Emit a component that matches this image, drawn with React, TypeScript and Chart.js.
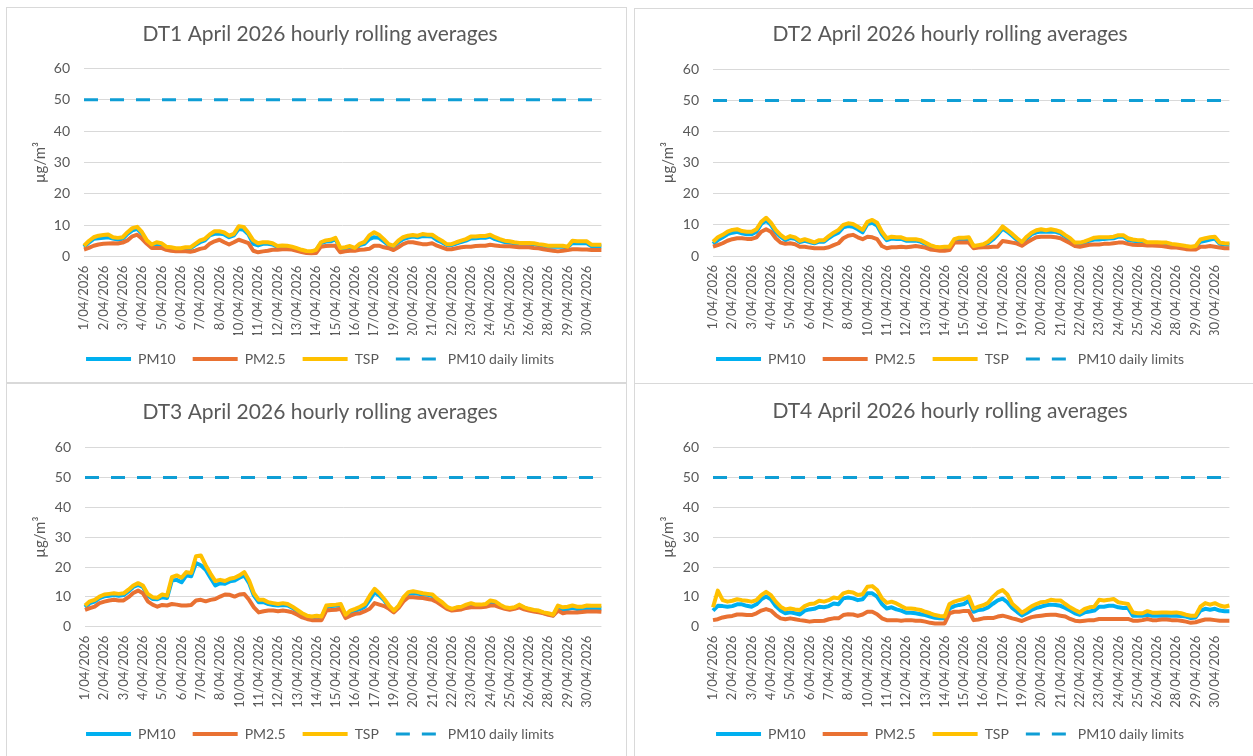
import React, { useEffect, useRef } from 'react';
import { Chart, registerables } from 'chart.js';

Chart.register(...registerables);

// ---------- DATA ----------
const tickDates = [
  '1/04/2026', '2/04/2026', '3/04/2026', '4/04/2026', '5/04/2026', '6/04/2026', '7/04/2026',
  '8/04/2026', '10/04/2026', '11/04/2026', '12/04/2026', '13/04/2026', '14/04/2026', '15/04/2026',
  '16/04/2026', '17/04/2026', '19/04/2026', '20/04/2026', '21/04/2026', '22/04/2026', '23/04/2026',
  '24/04/2026', '25/04/2026', '26/04/2026', '28/04/2026', '29/04/2026', '30/04/2026',
];
const pointsPerTick = 4;
const pointCount = 108;
const pm10DailyLimit = 50;

const seriesNames = ['PM10', 'PM2.5', 'TSP', 'PM10 daily limits'];
const chartTitles = [
  'DT1 April 2026 hourly rolling averages',
  'DT2 April 2026 hourly rolling averages',
  'DT3 April 2026 hourly rolling averages',
  'DT4 April 2026 hourly rolling averages',
];
const yTicks = [0, 10, 20, 30, 40, 50, 60];

const dt1Tsp = [
  3.5, 5.0, 6.2, 6.7, 6.9, 7.1, 6.2, 6.0, 6.2, 7.8, 9.1, 9.5, 7.8, 5.2, 3.9, 4.6, 4.3, 3.2, 3.0, 2.7,
  2.7, 3.0, 3.0, 4.1, 5.2, 5.7, 7.1, 8.1, 8.1, 7.7, 6.7, 7.3, 9.7, 9.5, 7.6, 5.2, 4.3, 4.6, 4.6, 4.3,
  3.4, 3.6, 3.5, 3.2, 2.7, 2.2, 1.8, 1.7, 2.2, 4.6, 5.2, 5.4, 6.0, 2.8, 3.0, 3.4, 2.8, 4.1, 4.7, 6.8,
  7.8, 7.0, 5.6, 4.0, 3.5, 5.1, 6.2, 6.7, 6.9, 6.7, 7.2, 7.0, 7.0, 6.0, 5.1, 4.0, 4.0, 4.6, 5.1, 5.6,
  6.4, 6.4, 6.6, 6.6, 7.0, 6.2, 5.6, 5.1, 4.9, 4.6, 4.4, 4.4, 4.4, 4.3, 4.0, 3.8, 3.5, 3.5, 3.5, 3.5,
  3.2, 5.1, 4.9, 4.9, 4.9, 3.8, 3.8, 3.8,
];
const dt1Pm10 = [
  3.1, 4.5, 5.7, 5.9, 6.0, 6.2, 5.8, 5.5, 5.7, 7.3, 8.4, 8.9, 7.3, 4.7, 3.4, 4.1, 3.9, 2.9, 2.7, 2.4,
  2.4, 2.7, 2.7, 3.7, 4.6, 5.2, 6.8, 7.3, 7.4, 7.1, 6.2, 6.8, 8.9, 8.6, 7.1, 4.1, 3.6, 4.1, 4.1, 3.9,
  3.1, 3.3, 3.2, 2.9, 2.5, 2.0, 1.6, 1.5, 2.0, 4.3, 4.8, 4.9, 5.6, 2.5, 2.7, 3.0, 2.5, 3.7, 4.1, 5.6,
  6.2, 6.0, 4.9, 3.7, 3.2, 4.6, 5.6, 6.1, 6.4, 6.2, 6.6, 6.5, 6.4, 5.3, 4.6, 3.7, 3.7, 4.2, 4.7, 5.1,
  5.8, 5.9, 6.0, 6.0, 6.4, 5.6, 5.1, 4.7, 4.5, 4.3, 4.1, 4.1, 4.1, 4.0, 3.7, 3.5, 3.2, 3.2, 3.2, 3.2,
  3.0, 4.4, 4.3, 4.3, 4.3, 3.3, 3.3, 3.3,
];
const dt1Pm25 = [
  2.3, 2.8, 3.5, 3.9, 4.1, 4.2, 4.3, 4.2, 4.5, 5.2, 6.5, 7.0, 5.7, 4.1, 2.8, 2.8, 2.8, 2.2, 1.9, 1.7,
  1.7, 1.7, 1.6, 1.9, 2.5, 2.8, 4.1, 4.9, 5.4, 4.6, 3.9, 4.6, 5.4, 4.9, 4.3, 1.9, 1.4, 1.7, 1.9, 2.2,
  2.2, 2.4, 2.4, 2.3, 1.9, 1.5, 1.2, 1.1, 1.2, 3.2, 3.4, 3.5, 3.5, 1.4, 1.7, 1.9, 1.9, 2.2, 2.3, 2.5,
  3.5, 3.5, 3.0, 2.7, 2.1, 3.0, 4.0, 4.6, 4.6, 4.3, 4.0, 4.0, 4.3, 3.5, 3.0, 2.4, 2.4, 2.7, 3.0, 3.2,
  3.2, 3.4, 3.5, 3.5, 3.8, 3.6, 3.4, 3.3, 3.3, 3.2, 3.0, 3.0, 3.0, 2.8, 2.7, 2.4, 2.1, 1.9, 1.7, 1.9,
  2.1, 2.4, 2.4, 2.3, 2.3, 2.1, 2.1, 2.1,
];

const dt2Tsp = [
  4.6, 6.0, 6.8, 7.8, 8.4, 8.6, 8.0, 7.8, 7.8, 8.6, 11.0, 12.3, 10.7, 8.4, 6.8, 5.7, 6.4, 6.0, 4.9, 5.4,
  4.9, 4.4, 5.1, 5.1, 6.4, 7.5, 8.4, 10.0, 10.5, 10.3, 9.4, 8.4, 11.0, 11.6, 10.7, 7.8, 5.7, 6.2, 6.0, 6.0,
  5.4, 5.4, 5.4, 5.1, 4.3, 3.5, 3.0, 2.8, 3.0, 3.0, 5.4, 5.9, 5.9, 6.0, 3.2, 3.5, 3.8, 4.6, 6.0, 7.5,
  9.5, 8.3, 7.1, 5.7, 4.5, 6.2, 7.5, 8.3, 8.6, 8.3, 8.6, 8.3, 7.8, 6.7, 5.7, 4.3, 4.3, 4.7, 5.3, 5.9,
  6.0, 6.0, 6.0, 6.2, 6.7, 6.7, 5.7, 5.3, 5.1, 5.1, 4.4, 4.4, 4.4, 4.3, 4.3, 3.9, 3.7, 3.5, 3.2, 3.0,
  3.2, 5.3, 5.7, 6.0, 6.2, 4.3, 4.1, 4.0,
];
const dt2Pm10 = [
  3.9, 5.1, 6.0, 7.0, 7.5, 7.8, 7.3, 7.0, 7.0, 7.8, 10.3, 11.4, 10.0, 7.6, 6.2, 5.1, 5.8, 5.5, 4.5, 4.9,
  4.5, 4.1, 4.6, 4.6, 5.8, 6.8, 7.5, 9.2, 9.6, 9.4, 8.6, 7.6, 10.3, 10.7, 9.8, 7.0, 5.1, 5.6, 5.5, 5.5,
  4.9, 4.9, 5.0, 4.6, 3.9, 3.2, 2.7, 2.5, 2.7, 2.8, 5.0, 5.4, 5.4, 5.5, 3.0, 3.2, 3.4, 4.1, 5.3, 6.9,
  8.8, 7.8, 6.5, 5.1, 4.1, 5.6, 7.0, 7.6, 7.9, 7.8, 7.9, 7.8, 7.3, 6.2, 5.1, 3.9, 4.1, 4.3, 4.9, 5.3,
  5.3, 5.5, 5.6, 5.7, 6.2, 6.2, 5.1, 4.9, 4.7, 4.7, 4.1, 4.1, 4.1, 4.0, 4.0, 3.5, 3.4, 3.2, 3.0, 2.8,
  3.0, 4.6, 4.9, 5.3, 5.6, 3.9, 3.7, 3.6,
];
const dt2Pm25 = [
  3.0, 3.5, 4.1, 4.9, 5.4, 5.7, 5.7, 5.5, 5.5, 6.0, 7.8, 8.6, 7.8, 5.7, 4.3, 3.9, 4.1, 3.8, 3.0, 3.0,
  2.7, 2.5, 2.5, 2.5, 2.8, 3.5, 4.1, 5.7, 6.5, 6.8, 6.0, 5.4, 6.2, 6.0, 5.4, 3.2, 2.5, 2.8, 2.8, 3.0,
  2.8, 3.0, 3.2, 3.0, 2.7, 2.1, 1.9, 1.7, 1.7, 1.9, 4.3, 4.3, 4.3, 4.3, 2.5, 2.7, 2.8, 2.8, 3.0, 3.0,
  4.8, 4.6, 4.3, 4.0, 3.3, 4.3, 5.2, 6.0, 6.2, 6.2, 6.2, 6.0, 5.7, 4.9, 4.1, 3.2, 3.0, 3.3, 3.6, 3.7,
  3.7, 3.9, 3.9, 4.1, 4.3, 4.3, 3.9, 3.6, 3.5, 3.5, 3.4, 3.4, 3.3, 3.2, 3.0, 2.7, 2.7, 2.5, 2.2, 2.1,
  2.1, 3.0, 3.0, 3.2, 3.0, 2.7, 2.5, 2.5,
];

const dt3Tsp = [
  7.1, 8.5, 9.0, 10.1, 10.8, 11.0, 11.2, 11.0, 11.2, 12.4, 13.8, 14.6, 13.8, 11.0, 9.9, 9.7, 10.8, 10.4, 16.6, 17.2,
  16.4, 18.3, 18.0, 23.6, 23.9, 20.6, 17.8, 15.3, 15.7, 15.3, 16.1, 16.4, 17.2, 18.3, 15.5, 11.2, 9.0, 9.0, 8.2, 7.9,
  7.6, 7.9, 7.6, 6.7, 5.6, 4.5, 3.7, 3.4, 3.7, 3.4, 7.1, 7.3, 7.4, 7.6, 4.0, 5.4, 6.0, 6.7, 7.6, 10.4,
  12.7, 11.2, 9.3, 7.1, 5.4, 7.1, 9.9, 11.6, 11.9, 11.6, 11.2, 11.0, 10.8, 9.3, 8.2, 6.7, 6.0, 6.5, 6.7, 7.4,
  7.9, 7.4, 7.4, 7.6, 8.8, 8.5, 7.4, 6.5, 6.3, 6.5, 7.4, 6.5, 6.0, 5.6, 5.4, 4.8, 4.5, 4.0, 7.1, 6.5,
  6.7, 7.1, 6.7, 6.7, 7.1, 7.0, 7.0, 7.0,
];
const dt3Pm10 = [
  6.5, 7.9, 8.4, 9.6, 10.2, 10.4, 10.6, 10.4, 10.6, 11.8, 13.3, 14.0, 13.3, 10.4, 9.3, 9.2, 9.9, 9.6, 15.5, 15.7,
  14.9, 17.2, 16.9, 21.3, 20.6, 19.1, 16.4, 13.8, 14.6, 14.4, 15.2, 15.5, 16.4, 17.2, 14.6, 10.4, 8.2, 8.2, 7.6, 7.3,
  7.1, 7.3, 7.1, 6.3, 5.1, 4.0, 3.4, 3.1, 3.4, 3.1, 6.5, 6.9, 7.0, 7.1, 3.7, 4.8, 5.4, 5.9, 6.7, 9.0,
  11.6, 10.4, 8.8, 6.7, 5.2, 6.7, 9.4, 11.0, 11.2, 11.0, 10.8, 10.7, 10.3, 9.0, 7.9, 6.5, 5.7, 6.2, 6.4, 7.0,
  7.4, 7.1, 7.1, 7.3, 8.2, 8.1, 7.1, 6.3, 6.1, 6.3, 7.1, 6.3, 5.8, 5.4, 5.2, 4.6, 4.2, 3.8, 6.5, 5.8,
  5.9, 6.3, 5.9, 5.9, 6.3, 6.2, 6.2, 6.2,
];
const dt3Pm25 = [
  5.6, 6.2, 6.7, 7.9, 8.4, 8.8, 9.0, 8.8, 8.8, 9.9, 11.3, 12.1, 11.2, 8.5, 7.4, 6.7, 7.3, 7.1, 7.6, 7.4,
  7.1, 7.1, 7.3, 8.8, 9.0, 8.5, 9.0, 9.3, 10.1, 10.8, 10.7, 10.1, 10.8, 11.0, 9.0, 6.5, 4.8, 5.2, 5.4, 5.4,
  5.2, 5.4, 5.2, 4.8, 4.0, 3.1, 2.6, 2.2, 2.2, 2.2, 5.4, 5.6, 5.7, 6.0, 2.9, 3.7, 4.3, 4.5, 5.2, 6.0,
  7.9, 7.4, 6.9, 6.0, 4.8, 6.3, 8.5, 9.9, 9.9, 9.7, 9.6, 9.3, 9.0, 8.2, 7.1, 6.0, 5.4, 5.6, 5.8, 6.3,
  6.5, 6.5, 6.5, 6.7, 7.1, 7.1, 6.5, 6.0, 5.7, 6.0, 6.5, 5.8, 5.4, 5.1, 4.8, 4.5, 4.0, 3.7, 5.4, 4.5,
  4.8, 4.8, 4.8, 4.9, 5.1, 5.1, 5.1, 5.0,
];

const dt4Tsp = [
  6.5, 12.1, 8.9, 8.4, 8.7, 9.2, 8.9, 8.7, 8.4, 8.9, 10.6, 11.7, 10.6, 8.4, 6.7, 5.8, 6.1, 5.8, 5.6, 6.9,
  7.6, 7.8, 8.7, 8.4, 8.9, 9.8, 9.5, 11.2, 11.7, 11.5, 10.6, 10.9, 13.4, 13.6, 12.3, 9.5, 8.0, 8.4, 7.8, 6.9,
  6.1, 6.1, 5.9, 5.6, 5.0, 4.5, 3.9, 3.6, 3.4, 7.6, 8.4, 8.9, 9.3, 10.1, 6.1, 6.7, 7.2, 8.0, 10.0, 11.5,
  12.3, 10.8, 7.7, 6.3, 4.7, 5.7, 6.8, 7.6, 8.2, 8.4, 9.0, 8.8, 8.8, 7.6, 6.5, 5.6, 4.8, 6.0, 6.5, 6.7,
  9.0, 8.8, 9.0, 9.3, 8.2, 7.9, 7.6, 4.8, 4.5, 4.5, 5.2, 4.7, 4.7, 4.8, 4.8, 4.7, 4.8, 4.5, 4.0, 3.7,
  3.7, 6.7, 7.9, 7.4, 7.9, 7.1, 6.7, 7.1,
];
const dt4Pm10 = [
  5.4, 7.0, 6.9, 6.7, 6.9, 7.5, 7.5, 7.0, 6.7, 7.5, 9.2, 10.1, 9.2, 6.9, 5.4, 4.5, 4.8, 4.5, 4.1, 5.4,
  5.8, 6.0, 6.7, 6.5, 6.9, 7.8, 7.5, 9.5, 9.8, 9.5, 8.9, 9.2, 11.2, 11.2, 10.1, 7.6, 6.1, 6.5, 5.8, 5.4,
  4.7, 4.7, 4.5, 4.2, 3.9, 3.4, 3.0, 2.8, 2.8, 6.1, 6.9, 7.3, 7.6, 8.7, 5.0, 5.6, 5.8, 6.5, 7.7, 8.8,
  9.4, 8.2, 6.3, 5.0, 3.8, 4.6, 5.6, 6.3, 6.7, 7.2, 7.4, 7.3, 7.0, 6.3, 5.4, 4.5, 4.0, 4.8, 5.1, 5.4,
  6.7, 6.7, 7.0, 7.0, 6.5, 6.3, 6.3, 3.7, 3.7, 3.7, 4.0, 3.7, 3.7, 3.7, 3.7, 3.7, 3.7, 3.6, 3.4, 2.9,
  3.1, 5.4, 6.0, 5.7, 6.0, 5.4, 5.2, 5.2,
];
const dt4Pm25 = [
  2.2, 2.5, 3.1, 3.4, 3.6, 4.1, 4.1, 3.9, 3.9, 4.5, 5.4, 5.9, 5.4, 3.9, 2.8, 2.5, 2.8, 2.5, 2.2, 2.0,
  1.7, 1.9, 1.9, 2.0, 2.5, 2.8, 2.8, 3.9, 4.2, 4.1, 3.6, 4.1, 5.0, 5.0, 4.2, 2.8, 2.2, 2.2, 2.2, 2.0,
  2.2, 2.2, 2.0, 2.0, 1.7, 1.3, 1.1, 1.1, 1.1, 4.5, 5.0, 5.0, 5.3, 5.3, 2.2, 2.4, 2.8, 2.9, 2.9, 3.4,
  3.7, 3.3, 2.8, 2.4, 1.9, 2.6, 3.2, 3.5, 3.7, 3.9, 4.0, 4.0, 3.7, 3.4, 2.6, 2.0, 1.8, 2.0, 2.2, 2.2,
  2.6, 2.6, 2.6, 2.6, 2.6, 2.6, 2.6, 2.0, 2.0, 2.2, 2.6, 2.2, 2.2, 2.4, 2.4, 2.2, 2.2, 2.0, 1.7, 1.3,
  1.5, 2.0, 2.4, 2.4, 2.2, 2.0, 2.0, 2.0,
];

// ---------- STYLE / LAYOUT ----------
const FONT = 'Lato, "Open Sans", Arial, sans-serif';
const TEXT = '#595959';
const GRID = '#d9d9d9';
const COLORS = { pm10: '#00B0F0', pm25: '#E97132', tsp: '#FFC000', limit: '#0F9ED5' };

type Panel = {
  title: string;
  pm10: number[]; pm25: number[]; tsp: number[];
  box: { left: number; top: number; width: number; height: number };
  plot: { left: number; right: number; top: number; bottom: number };
  titleY: number; legendY: number; legendCenter: number; yTitleX: number;
};

const panels: Panel[] = [
  {
    title: chartTitles[0], pm10: dt1Pm10, pm25: dt1Pm25, tsp: dt1Tsp,
    box: { left: 6, top: 7, width: 621, height: 376 },
    plot: { left: 77, right: 603, top: 60.3, bottom: 248.7 },
    titleY: 26.2, legendY: 351, legendCenter: 313, yTitleX: 33,
  },
  {
    title: chartTitles[1], pm10: dt2Pm10, pm25: dt2Pm25, tsp: dt2Tsp,
    box: { left: 634, top: 8, width: 621, height: 376 },
    plot: { left: 78, right: 607, top: 60.3, bottom: 247 },
    titleY: 25.2, legendY: 350, legendCenter: 315, yTitleX: 33.3,
  },
  {
    title: chartTitles[2], pm10: dt3Pm10, pm25: dt3Pm25, tsp: dt3Tsp,
    box: { left: 6, top: 383, width: 621, height: 380 },
    plot: { left: 78, right: 603, top: 63.7, bottom: 242.7 },
    titleY: 28.5, legendY: 350, legendCenter: 313, yTitleX: 33,
  },
  {
    title: chartTitles[3], pm10: dt4Pm10, pm25: dt4Pm25, tsp: dt4Tsp,
    box: { left: 634, top: 383, width: 621, height: 380 },
    plot: { left: 78, right: 607, top: 63.7, bottom: 242.7 },
    titleY: 27.5, legendY: 350, legendCenter: 315, yTitleX: 33.3,
  },
];

const TITLE_SIZE = 21;
const TITLE_LH = 25;
const YTICK_SIZE = 14;
const XTICK_SIZE = 13;
const YTITLE_SIZE = 15;
const LEGEND_SIZE = 14;
const LEGEND_PAD = 17;

function buildChart(canvas: HTMLCanvasElement, p: Panel) {
  const W = p.box.width - 2;
  const H = p.box.height - 2;
  const padRight = W - p.plot.right;
  const padLeft = 2 * p.legendCenter - p.plot.right;
  const yAxisWidth = p.plot.left - padLeft;
  const titlePadTop = p.titleY - TITLE_LH / 2;
  const titlePadBottom = p.plot.top - titlePadTop - TITLE_LH;
  const layoutBottom = H - p.legendY - 10 - LEGEND_SIZE / 2;
  const legendHeight = LEGEND_SIZE + LEGEND_PAD + 10;
  const xAxisHeight = H - layoutBottom - legendHeight - p.plot.bottom;
  const yTitlePad = p.yTitleX - padLeft - (YTITLE_SIZE * 1.2) / 2;

  const labels = Array.from({ length: pointCount }, (_, i) =>
    i % pointsPerTick === 0 ? tickDates[i / pointsPerTick] ?? '' : ''
  );
  const limitData = labels.map(() => pm10DailyLimit);

  const line = (label: string, data: number[], color: string, order: number) => ({
    label, data, borderColor: color, backgroundColor: color, borderWidth: 4,
    pointRadius: 0, pointHoverRadius: 0, tension: 0, order, fill: false,
    borderJoinStyle: 'round' as const, borderCapStyle: 'butt' as const,
  });

  return new Chart(canvas, {
    type: 'line',
    data: {
      labels,
      datasets: [
        line(seriesNames[0], p.pm10, COLORS.pm10, 3),
        line(seriesNames[1], p.pm25, COLORS.pm25, 2),
        line(seriesNames[2], p.tsp, COLORS.tsp, 1),
        { ...line(seriesNames[3], limitData, COLORS.limit, 4), borderWidth: 3, borderDash: [14, 12] },
      ],
    },
    options: {
      responsive: false,
      animation: false,
      devicePixelRatio: 1,
      layout: { padding: { left: padLeft, right: padRight, top: 0, bottom: layoutBottom } },
      plugins: {
        title: {
          display: true, text: p.title, color: TEXT,
          font: { family: FONT, size: TITLE_SIZE, weight: 'normal', lineHeight: TITLE_LH / TITLE_SIZE },
          padding: { top: titlePadTop, bottom: titlePadBottom },
        },
        legend: {
          display: true, position: 'bottom', align: 'center',
          labels: {
            usePointStyle: true, pointStyleWidth: 45, boxHeight: 10,
            padding: LEGEND_PAD, color: TEXT,
            font: { family: FONT, size: LEGEND_SIZE },
            generateLabels: (chart: any) =>
              chart.data.datasets.map((ds: any, i: number) => ({
                text: ds.label, fillStyle: ds.borderColor, strokeStyle: ds.borderColor,
                lineWidth: ds.borderWidth, lineDash: ds.borderDash || [], lineCap: 'butt',
                pointStyle: 'line', datasetIndex: i, hidden: false, fontColor: TEXT,
              })),
          },
        },
        tooltip: { enabled: false },
      },
      scales: {
        x: {
          type: 'category',
          offset: false,
          grid: { display: false, drawTicks: false },
          border: { display: false },
          ticks: {
            autoSkip: false, minRotation: 90, maxRotation: 90, padding: 9,
            color: TEXT, font: { family: FONT, size: XTICK_SIZE },
            callback: (_v: any, i: number) => labels[i],
          },
          afterFit: (s: any) => { s.height = xAxisHeight; },
        },
        y: {
          min: 0, max: 60,
          afterBuildTicks: (s: any) => { s.ticks = yTicks.map((v) => ({ value: v })); },
          grid: { color: GRID, lineWidth: 1, drawTicks: false },
          border: { display: false },
          ticks: { padding: 14, color: TEXT, font: { family: FONT, size: YTICK_SIZE } },
          title: {
            display: true, text: 'µg/m³', color: TEXT,
            font: { family: FONT, size: YTITLE_SIZE }, padding: { top: yTitlePad, bottom: 0 },
          },
          afterFit: (s: any) => { s.width = yAxisWidth; },
        },
      },
    },
  } as any);
}

function ChartPanel({ p }: { p: Panel }) {
  const ref = useRef<HTMLCanvasElement | null>(null);
  useEffect(() => {
    if (!ref.current) return;
    const chart = buildChart(ref.current, p);
    return () => chart.destroy();
  }, [p]);
  return (
    <div
      style={{
        position: 'absolute', left: p.box.left, top: p.box.top, width: p.box.width, height: p.box.height,
        border: `1px solid ${GRID}`, boxSizing: 'border-box', background: '#fff',
      }}
    >
      <canvas
        ref={ref}
        width={p.box.width - 2}
        height={p.box.height - 2}
        style={{ display: 'block', width: p.box.width - 2, height: p.box.height - 2 }}
      />
    </div>
  );
}

export default function App() {
  return (
    <div style={{ position: 'absolute', left: 0, top: 0, width: 1253, height: 756, overflow: 'hidden', background: '#fff' }}>
      {panels.map((p, i) => <ChartPanel key={i} p={p} />)}
    </div>
  );
}
